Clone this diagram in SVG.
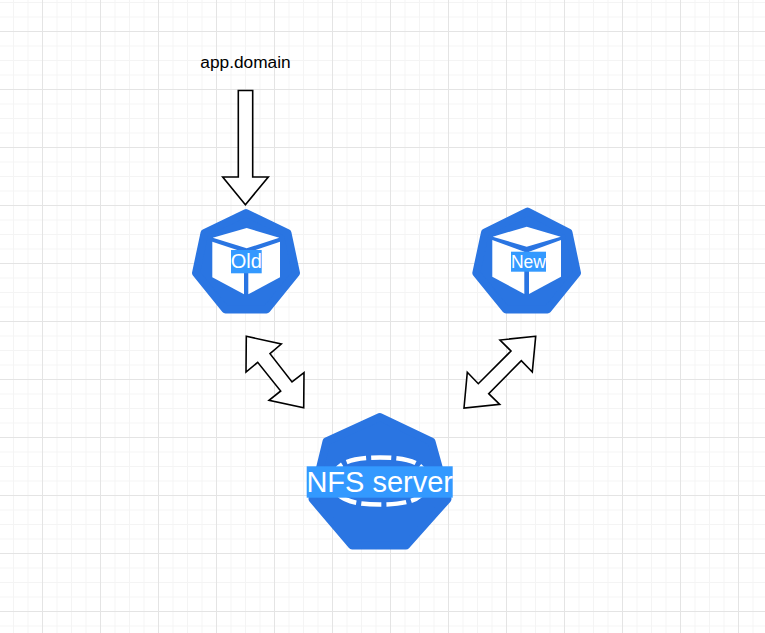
<svg xmlns="http://www.w3.org/2000/svg" width="765" height="633" viewBox="0 0 765 633">
  <style>
    .hept { fill: #2a75e2; stroke: #2a75e2; stroke-width: 8; stroke-linejoin: round; }
    .cube { fill: #ffffff; }
    .lbg { fill: #3399ff; }
    .lbl { fill: #ffffff; font-family: "Liberation Sans", Arial, sans-serif; text-anchor: middle; }
    .arrow { fill: #ffffff; stroke: #000000; stroke-width: 1.6; stroke-linejoin: miter; }
  </style>
  <defs>
    <pattern id="minor" width="14.5" height="14.5" patternUnits="userSpaceOnUse" x="-1.5" y="2">
      <path d="M0.5 0V14.5M0 0.5H14.5" fill="none" stroke="#f4f4f4" stroke-width="1"/>
    </pattern>
    <pattern id="major" width="58" height="58" patternUnits="userSpaceOnUse" x="-16" y="31">
      <path d="M0.5 0V58M0 0.5H58" fill="none" stroke="#e4e4e4" stroke-width="1"/>
    </pattern>
  </defs>
  <rect width="765" height="633" fill="#ffffff"/>
  <rect width="765" height="633" fill="url(#minor)"/>
  <rect width="765" height="633" fill="url(#major)"/>

  <g id="connectors">
    <polygon class="arrow" points="238.3,90.5 252.7,90.5 252.7,177 268.3,177 245.4,204.7 222.7,177 238.3,177"/>
    <polygon class="arrow" points="246.3,336.3 281.3,344 270,353.7 292,382 304,372.7 303.7,407.7 269,400.3 280.7,391 257.7,362.3 246,372"/>
    <polygon class="arrow" points="535.7,336.3 500,340 511,351 478.3,383.7 467.3,372.3 464,408 499.7,404.3 488.7,393.7 521.3,360.7 532.3,372"/>
  </g>

  <g id="label-app-domain">
    <text x="245.5" y="67.5" font-family="'Liberation Sans', Arial, sans-serif" font-size="17.3" fill="#000000" text-anchor="middle">app.domain</text>
  </g>

  <g id="node-old">
    <polygon class="hept" points="246,213 287.5,233 296,273 266.5,309.5 225.5,309.5 196,273 204.5,233"/>
    <polygon class="cube" points="246.7,228 279.3,237.7 246.7,248.3 212.7,237.7"/>
    <polygon class="cube" points="212.3,241.7 244,252.3 244,294.3 212.3,277.3"/>
    <polygon class="cube" points="248.3,252.3 280,241.7 280,277.3 248.3,294.3"/>
    <rect class="lbg" x="231" y="250" width="30.7" height="23.3"/>
    <text class="lbl" x="246.3" y="268" font-size="20">Old</text>
  </g>

  <g id="node-new">
    <polygon class="hept" points="527.5,211.5 568.5,232.5 577,273 547.5,309.5 506,309.5 476.3,273 485,232.5"/>
    <polygon class="cube" points="526.7,226.7 560.7,236.7 526.7,246.7 492.7,236.7"/>
    <polygon class="cube" points="492.3,240 524.3,251.7 524.3,294 492.3,276.7"/>
    <polygon class="cube" points="529,251.7 561,240 561,276.7 529,294"/>
    <rect class="lbg" x="511" y="251.7" width="35" height="20"/>
    <text class="lbl" x="528.5" y="268" font-size="17.5">New</text>
  </g>

  <g id="node-nfs">
    <polygon class="hept" points="380,417 431.5,441.5 447.5,499 406,545.5 352,545.5 312.5,499 326.5,441.5"/>
    <path d="M333,481 C333,463 351,457.5 380,457.5 C409,457.5 427,463 427,481 C427,499 409,504.5 380,504.5 C351,504.5 333,499 333,481Z" fill="none" stroke="#ffffff" stroke-width="4.5" stroke-dasharray="20 5"/>
    <rect class="lbg" x="306.7" y="466.3" width="146" height="31.4"/>
    <text class="lbl" x="379.7" y="492.3" font-size="29">NFS server</text>
  </g>
</svg>
